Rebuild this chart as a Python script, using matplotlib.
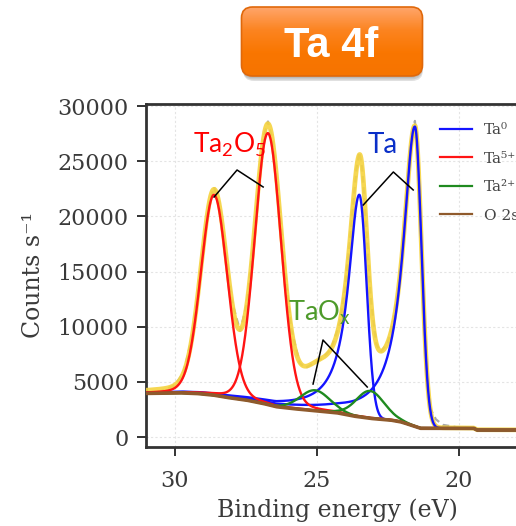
import numpy as np
import matplotlib
matplotlib.use("Agg")
import matplotlib.pyplot as plt
from matplotlib.patches import FancyBboxPatch
from matplotlib.colors import LinearSegmentedColormap

plt.rcParams["mathtext.fontset"] = "custom"
plt.rcParams["mathtext.rm"] = "Lato"

# ---------------- values ----------------
# measured spectrum (grey dashed)
data_energy = [31.0, 30.5, 30.0, 29.7, 29.4, 29.2, 29.0, 28.8, 28.62, 28.45, 28.25, 28.0,
               27.7, 27.45, 27.2, 27.0, 26.85, 26.72, 26.55, 26.35, 26.15, 25.9, 25.6,
               25.4, 25.1, 24.8, 24.5, 24.2, 24.0, 23.8, 23.6, 23.5, 23.4, 23.25, 23.1,
               22.9, 22.75, 22.5, 22.3, 22.1, 21.9, 21.7, 21.54, 21.45, 21.35, 21.25,
               21.2, 21.1, 21.0, 20.8, 20.55, 20.05, 19.5, 19.35, 17.5]
data_counts = [4050, 4150, 4700, 5820, 9010, 12780, 17300, 21150, 22650, 21260, 17545, 12375,
               9600, 12250, 18530, 24290, 27400, 28600, 26730, 21690, 15690, 9800, 6700,
               6250, 6700, 7170, 7960, 10235, 13490, 18715, 24300, 25850, 24455, 18785, 12615,
               8420, 7700, 8520, 10370, 13800, 19320, 25810, 28650, 26050, 20080, 13000,
               9500, 4400, 2600, 1600, 1100, 880, 800, 650, 640]

# background (drawn brown, legend "O 2s")
bg_energy = [31.02, 29.85, 29.26, 28.67, 28.20, 27.49, 26.90, 26.44, 25.94, 25.12,
             24.30, 23.71, 23.12, 22.41, 22.06, 21.94, 21.35, 19.47, 19.35, 17.50]
bg_counts = [3950, 4000, 3950, 3810, 3600, 3350, 3050, 2750, 2600, 2390,
             2200, 1900, 1690, 1540, 1390, 1300, 790, 790, 630, 630]

# Ta0 (metal) doublet, asymmetric peaks
ta0_center = [23.50, 21.54]
ta0_height = [20130, 27180]
ta0_hwhm_high = [0.47, 0.50]   # high binding-energy side (Lorentzian tail)
ta0_hwhm_low = [0.30, 0.27]    # low binding-energy side (Gaussian)

# Ta5+ (Ta2O5) doublet
ta5_center = [28.62, 26.72]
ta5_height = [18160, 24610]
ta5_hwhm = [0.55, 0.55]
ta5_lor_fraction = 0.1

# Ta2+ (TaOx) doublet
ta2_center = [25.06, 23.12]
ta2_height = [1860, 2480]
ta2_hwhm = [0.62, 0.58]
ta2_lor_fraction = 0.1

legend_labels = ["Ta\u2070", "Ta\u2075\u207a", "Ta\u00b2\u207a", "O 2s"]
x_ticks = [30, 25, 20]
y_ticks = [0, 5000, 10000, 15000, 20000, 25000, 30000]

# ---------------- figure ----------------
W, H = 516, 526
fig = plt.figure(figsize=(W / 100, H / 100), dpi=100)

def px_axes(left, top, right, bottom):
    return [left / W, 1 - bottom / H, (right - left) / W, (bottom - top) / H]

ax = fig.add_axes(px_axes(146, 104, 529.5, 447))

E = np.linspace(31.1, 17.4, 3000)
bg = np.interp(E[::-1], bg_energy[::-1], bg_counts[::-1])[::-1]

def pvoigt(x, c, hw, eta):
    d2 = ((x - c) / hw) ** 2
    return (1 - eta) * np.exp(-np.log(2) * d2) + eta / (1 + d2)

def asym(x, c, hw_hi, hw_lo):
    d = x - c
    return np.where(d > 0, 1 / (1 + (d / hw_hi) ** 2),
                    np.exp(-np.log(2) * (d / hw_lo) ** 2))

ta0 = [h * asym(E, c, a, b) for c, h, a, b in zip(ta0_center, ta0_height, ta0_hwhm_high, ta0_hwhm_low)]
ta5 = [h * pvoigt(E, c, w, ta5_lor_fraction) for c, h, w in zip(ta5_center, ta5_height, ta5_hwhm)]
ta2 = [h * pvoigt(E, c, w, ta2_lor_fraction) for c, h, w in zip(ta2_center, ta2_height, ta2_hwhm)]
envelope = bg + sum(ta0) + sum(ta5) + sum(ta2)

ax.plot(data_energy, data_counts, color="#a8a8a8", lw=1.6, ls=(0, (3, 2)), zorder=2)
ax.plot(E, envelope, color="#f5d33f", lw=3.4, alpha=0.9, zorder=3)
for i, p in enumerate(ta0):
    ax.plot(E, bg + p, color="#1414ff", lw=1.7, zorder=4, label=legend_labels[0] if i == 0 else None)
for i, p in enumerate(ta5):
    ax.plot(E, bg + p, color="#ff1414", lw=1.7, zorder=5, label=legend_labels[1] if i == 0 else None)
for i, p in enumerate(ta2):
    ax.plot(E, bg + p, color="#1f8a1f", lw=1.7, zorder=6, label=legend_labels[2] if i == 0 else None)
ax.plot(E, bg, color="#8f5a2c", lw=2.6, zorder=7, label=legend_labels[3])

ax.set_xlim(31.02, 17.5)
ax.set_ylim(-906, 30182)
ax.set_xticks(x_ticks)
ax.set_yticks(y_ticks)
ax.grid(True, color="#e4e4e4", lw=0.8, ls=(0, (2, 2)), zorder=0)
ax.set_axisbelow(True)

serif = "DejaVu Serif"
for s in ax.spines.values():
    s.set_color("#333333")
    s.set_linewidth(2.0)
ax.tick_params(direction="out", length=6.5, width=1.4, color="#333333",
               labelcolor="#3a3a3a", labelsize=16)
ax.tick_params(axis="x", pad=10)
ax.tick_params(axis="y", pad=6)
for lab in ax.get_xticklabels() + ax.get_yticklabels():
    lab.set_fontfamily(serif)
ax.set_xlabel("Binding energy (eV)", fontsize=17, family=serif, color="#3a3a3a", labelpad=5)
ax.set_ylabel("Counts s\u207b\u00b9", fontsize=17, family=serif, color="#3a3a3a", labelpad=9)

leg = ax.legend(loc="upper left", bbox_to_anchor=((440 - 146) / 383.5, 1 - 19 / 343),
                frameon=False, borderpad=0, borderaxespad=0, handlelength=2.1,
                handletextpad=0.8, labelspacing=0.95,
                prop={"family": serif, "size": 11})
for t in leg.get_texts():
    t.set_color("#444444")
for ln in leg.get_lines():
    ln.set_linewidth(1.6)

# annotations
ann_font = "Lato"
ax.text(29.36, 25800, "Ta$_\\mathregular{2}$O$_\\mathregular{5}$", color="#ff0000",
        fontsize=19, family=ann_font, ha="left", va="baseline", zorder=9)
ax.text(23.22, 25710, "Ta", color="#0a2fc8", fontsize=20, family=ann_font,
        ha="left", va="baseline", zorder=9)
ax.text(26.01, 10540, "TaO$_\\mathregular{x}$", color="#4d9a2a", fontsize=19.5,
        family=ann_font, ha="left", va="baseline", zorder=9)

leaders = [
    ([28.62, 27.81, 26.89], [21750, 24200, 22660]),
    ([23.36, 22.30, 21.60], [21030, 24020, 22390]),
    ([25.13, 24.78, 23.22], [4800, 8790, 4530]),
]
for xs, ys in leaders:
    ax.plot(xs, ys, color="black", lw=1.1, zorder=8)

# title badge
ov = fig.add_axes([0, 0, 1, 1], zorder=20)
ov.set_xlim(0, W)
ov.set_ylim(H, 0)
ov.set_axis_off()
for k, a in enumerate([0.08, 0.10, 0.12]):
    sh = FancyBboxPatch((242 + 0.5 * k, 9 + 1.5 * k), 180, 69,
                        boxstyle="round,pad=0,rounding_size=11",
                        fc="#000000", ec="none", alpha=a)
    ov.add_patch(sh)
box = FancyBboxPatch((241.5, 7), 181, 69, boxstyle="round,pad=0,rounding_size=11",
                     fc="none", ec="#e0680a", lw=1.2, zorder=3)
ov.add_patch(box)
cmap = LinearSegmentedColormap.from_list("badge", ["#ffa56a", "#fc8420", "#f97600", "#f67400"])
im = ov.imshow(np.linspace(0, 1, 100)[:, None], cmap=cmap, aspect="auto",
               extent=(241.5, 422.5, 76, 7), zorder=2)
clip = FancyBboxPatch((241.5, 7), 181, 69, boxstyle="round,pad=0,rounding_size=11",
                      transform=ov.transData, fc="none", ec="none")
im.set_clip_path(clip)
ov.set_xlim(0, W)
ov.set_ylim(H, 0)
ov.text(331, 46, "Ta 4f", color="white", fontsize=30, fontweight="bold",
        family="Liberation Sans", ha="center", va="center", zorder=4)

fig.savefig("out.png", dpi=100)
